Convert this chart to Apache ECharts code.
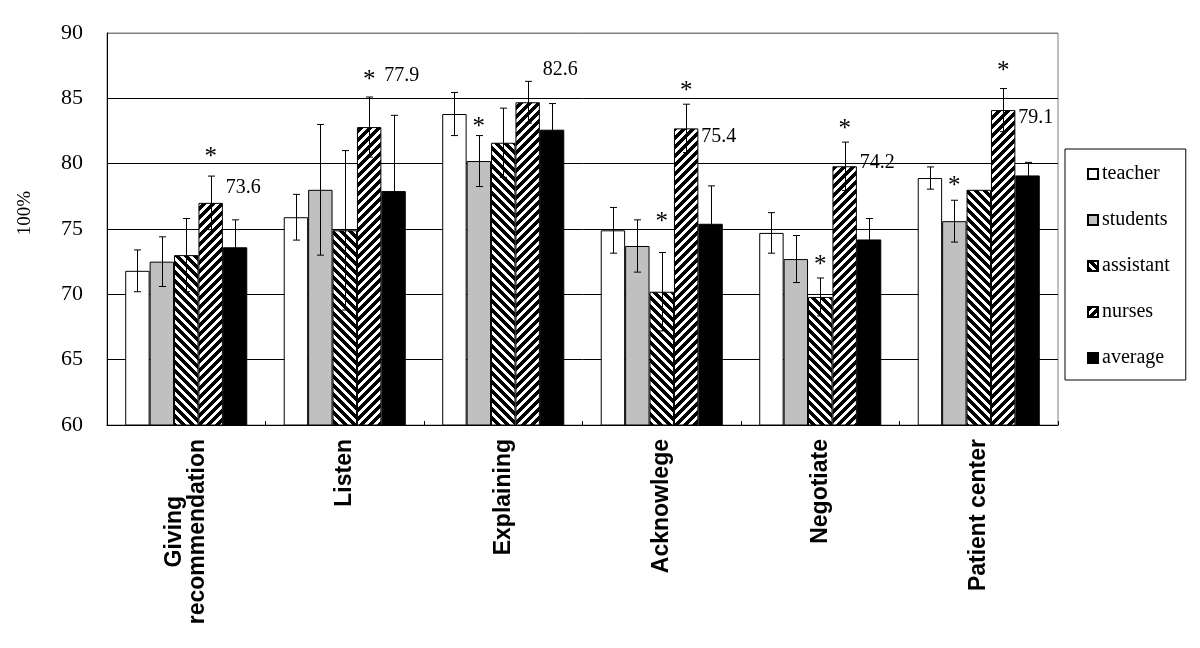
<!DOCTYPE html>
<html>
<head>
<meta charset="utf-8">
<script src="https://cdn.jsdelivr.net/npm/echarts@6/dist/echarts.min.js"></script>
<style>html,body{margin:0;padding:0;background:#fff}#c{width:1200px;height:648px}</style>
</head>
<body>
<div id="c"></div>
<script>
// ---- data ----
const categories = ['Giving\nrecommendation', 'Listen', 'Explaining', 'Acknowlege', 'Negotiate', 'Patient center'];
const seriesNames = ['teacher', 'students', 'assistant', 'nurses', 'average'];
const teacher   = [71.8, 75.9, 83.8, 74.9, 74.7, 78.9];
const students  = [72.5, 78.0, 80.2, 73.7, 72.7, 75.6];
const assistant = [73.0, 74.9, 81.6, 70.2, 69.8, 78.0];
const nurses    = [77.0, 82.8, 84.7, 82.7, 79.8, 84.1];
const average   = [73.6, 77.9, 82.6, 75.4, 74.2, 79.1];
// half-length of error bars
const teacherErr   = [1.6, 1.75, 1.65, 1.75, 1.55, 0.85];
const studentsErr  = [1.9, 5.0, 1.95, 2.0, 1.8, 1.6];
const assistantErr = [2.8, 6.1, 2.65, 3.0, 1.45, null];
const nursesErr    = [2.05, 2.3, 1.6, 1.85, 1.85, 1.65];
const averageErr   = [2.1, 5.8, 2.0, 2.9, 1.6, 1.0];
// value annotations (text, value-axis height)
const valueLabels = ['73.6', '77.9', '82.6', '75.4', '74.2', '79.1'];
const valueLabelY = [78.15, 86.75, 87.2, 82.05, 80.1, 83.55];
// significance asterisks: [category index, series index, value-axis height]
const asterisks = [[0, 3, 80.85], [1, 3, 86.78], [2, 1, 83.14], [3, 2, 75.91], [3, 3, 85.94],
                   [4, 2, 72.62], [4, 3, 82.99], [5, 1, 78.67], [5, 3, 87.47]];
const yTicks = [60, 65, 70, 75, 80, 85, 90];

// ---- styling helpers ----
const SERIF = '"Liberation Serif", "Times New Roman", serif';
const SANS = '"Liberation Sans", Arial, sans-serif';
function stripes(forward) {
  const n = 9, c = document.createElement('canvas');
  c.width = n; c.height = n;
  const ctx = c.getContext('2d');
  const img = ctx.createImageData(n, n);
  for (let y = 0; y < n; y++) for (let x = 0; x < n; x++) {
    const k = forward ? (x + y) % n : ((x - y) % n + n) % n;
    const v = k < 5 ? 0 : 255;
    const i = (y * n + x) * 4;
    img.data[i] = v; img.data[i + 1] = v; img.data[i + 2] = v; img.data[i + 3] = 255;
  }
  ctx.putImageData(img, 0, 0);
  return { image: c, repeat: 'repeat' };
}
const fills = ['#ffffff', '#c0c0c0', stripes(false), stripes(true), '#000000'];
const values = [teacher, students, assistant, nurses, average];
const errs = [teacherErr, studentsErr, assistantErr, nursesErr, averageErr];
const GAP = 0.23;

const errData = [];
values.forEach((arr, s) => arr.forEach((v, c) => { if (errs[s][c] != null) errData.push([c, s, v, errs[s][c]]); }));
const labData = valueLabels.map((t, c) => [c, valueLabelY[c], t]);

function barX(api, c, s, v) {
  const band = api.size([1, 0])[0];
  const bw = band * (1 - GAP) / 5;
  return { cx: api.coord([c, v])[0] + (s - 2) * bw, bw: bw };
}

const chart = echarts.init(document.getElementById('c'), null, { renderer: 'canvas' });
chart.setOption({
  backgroundColor: '#ffffff',
  animation: false,
  grid: { left: 107, right: 142, top: 33, bottom: 223, show: true, borderColor: '#808080', borderWidth: 1, backgroundColor: 'transparent' },
  legend: {
    data: seriesNames,
    orient: 'vertical',
    left: 1065, top: 149,
    padding: [15, 16, 12, 22],
    itemGap: 26,
    itemWidth: 10, itemHeight: 10,
    icon: 'rect',
    borderColor: '#000', borderWidth: 1,
    textStyle: { fontFamily: SERIF, fontSize: 20, color: '#000', padding: [0, 0, 0, -1], lineHeight: 20 }
  },
  xAxis: {
    type: 'category',
    data: categories,
    axisLine: { lineStyle: { color: '#000', width: 1 } },
    axisTick: { show: true, inside: true, length: 4, lineStyle: { color: '#000' } },
    axisLabel: {
      interval: 0, rotate: 90, margin: 14,
      formatter: v => v.split('\n').map(s => '{c|' + s + '}').join('\n'),
      rich: { c: { align: 'center', fontFamily: SANS, fontWeight: 'bold', fontSize: 23, lineHeight: 23, color: '#000' } }
    },
    splitLine: { show: false }
  },
  yAxis: {
    type: 'value', min: yTicks[0], max: yTicks[yTicks.length - 1], interval: yTicks[1] - yTicks[0],
    axisLine: { show: true, lineStyle: { color: '#000', width: 1 } },
    axisTick: { show: false },
    axisLabel: { fontFamily: SERIF, fontSize: 22, color: '#000', margin: 24 },
    splitLine: { show: true, lineStyle: { color: ['#000', '#000', '#000', '#000', '#000', '#000', '#808080'], width: 1 } }
  },
  graphic: [{
    type: 'text', x: 25, y: 213, rotation: Math.PI / 2,
    style: { text: '100%', fontFamily: SERIF, fontSize: 19, fill: '#000', align: 'center', verticalAlign: 'middle' }
  }],
  series: seriesNames.map((name, s) => ({
    name: name, type: 'bar', data: values[s],
    barGap: '0%', barCategoryGap: (GAP * 100) + '%',
    itemStyle: { color: fills[s], borderColor: '#000', borderWidth: 1 }
  })).concat([
    {
      type: 'custom', name: 'err', data: errData, z: 5,
      renderItem: function (params, api) {
        const c = api.value(0), s = api.value(1), v = api.value(2), e = api.value(3);
        const x = Math.round(barX(api, c, s, v).cx) + 0.5;
        const top = api.coord([c, v + e])[1], bot = api.coord([c, v - e])[1];
        const cap = 3.5, st = { stroke: '#000', lineWidth: 1 };
        return { type: 'group', children: [
          { type: 'line', shape: { x1: x, y1: top, x2: x, y2: bot }, style: st },
          { type: 'line', shape: { x1: x - cap, y1: top, x2: x + cap, y2: top }, style: st },
          { type: 'line', shape: { x1: x - cap, y1: bot, x2: x + cap, y2: bot }, style: st }
        ] };
      }
    },
    {
      type: 'custom', name: 'ast', data: asterisks, z: 6,
      renderItem: function (params, api) {
        const c = api.value(0), s = api.value(1), y = api.value(2);
        const p = barX(api, c, s, y);
        return { type: 'text', x: p.cx, y: api.coord([c, y])[1] + 5,
          style: { text: '*', fontFamily: SERIF, fontSize: 25, fill: '#000', align: 'center', verticalAlign: 'middle' } };
      }
    },
    {
      type: 'custom', name: 'lab', data: labData, z: 6,
      renderItem: function (params, api) {
        const c = api.value(0), y = api.value(1);
        const t = labData[params.dataIndex][2];
        const p = barX(api, c, 3, y);
        return { type: 'text', x: p.cx + p.bw / 2 + 3, y: api.coord([c, y])[1],
          style: { text: t, fontFamily: SERIF, fontSize: 20, fill: '#000', align: 'left', verticalAlign: 'middle' } };
      }
    }
  ])
});
</script>
</body>
</html>
